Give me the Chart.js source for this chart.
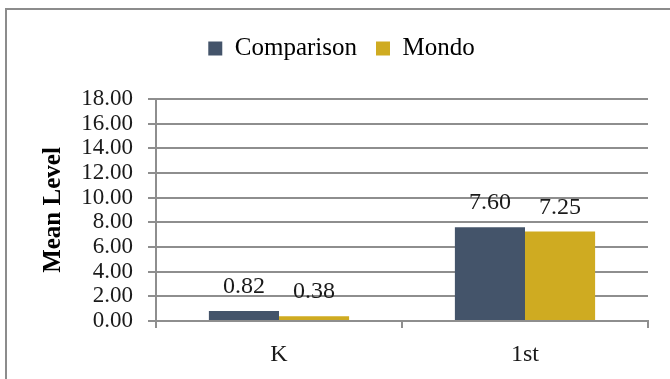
<!DOCTYPE html>
<html>
<head>
<meta charset="utf-8">
<script src="https://cdn.jsdelivr.net/npm/chart.js@4.4.1/dist/chart.umd.min.js"></script>
<style>
  html, body { margin: 0; padding: 0; background: #fff; overflow: hidden; }
  #wrap { position: relative; width: 670px; height: 379px; }
  #frame {
    position: absolute; left: 5px; top: 8px; width: 720px; height: 420px;
    border: 2px solid #8c8c8c; box-sizing: border-box; pointer-events: none;
  }
  canvas { position: absolute; left: 0; top: 0; }
</style>
</head>
<body>
<div id="wrap">
  <div id="frame"></div>
  <canvas id="meanChart" width="670" height="379"></canvas>
</div>
<script>
// grade levels and mean reading level per group
const categories = ['K', '1st'];
const comparisonValues = [0.82, 7.60];
const mondoValues = [0.38, 7.25];
const seriesNames = ['Comparison', 'Mondo'];
const yTicks = [0, 2, 4, 6, 8, 10, 12, 14, 16, 18];

const SERIF = '"Liberation Serif", "Times New Roman", serif';
const GRID_COLOR = '#8e8e8e';
const LEGEND_HEIGHT = 82;

// force legend block height so the plot starts where the reference does
const legendSpacer = {
  id: 'legendSpacer',
  beforeInit(chart) {
    const origFit = chart.legend.fit;
    chart.legend.fit = function fit() {
      origFit.bind(chart.legend)();
      this.height = LEGEND_HEIGHT;
    };
  },
};

// value labels above each bar
const barValueLabels = {
  id: 'barValueLabels',
  afterDatasetsDraw(chart) {
    const { ctx } = chart;
    ctx.save();
    ctx.font = `24px ${SERIF}`;
    ctx.fillStyle = '#1a1a1a';
    ctx.textAlign = 'center';
    ctx.textBaseline = 'alphabetic';
    chart.data.datasets.forEach((ds, i) => {
      chart.getDatasetMeta(i).data.forEach((bar, j) => {
        ctx.fillText(ds.data[j].toFixed(2), bar.x, bar.y - 18);
      });
    });
    ctx.restore();
  },
};

const ctx = document.getElementById('meanChart').getContext('2d');
new Chart(ctx, {
  type: 'bar',
  data: {
    labels: categories,
    datasets: [
      { label: seriesNames[0], data: comparisonValues, backgroundColor: '#44546A' },
      { label: seriesNames[1], data: mondoValues, backgroundColor: '#CFAB21' },
    ],
  },
  options: {
    responsive: false,
    animation: false,
    categoryPercentage: 0.57,
    barPercentage: 1.0,
    layout: { padding: { left: 35, right: 22, top: 17, bottom: 0 } },
    plugins: {
      legend: {
        position: 'top',
        labels: {
          boxWidth: 14,
          boxHeight: 14,
          padding: 19,
          color: '#000',
          font: { family: SERIF, size: 25 },
        },
      },
      tooltip: { enabled: false },
    },
    scales: {
      x: {
        afterFit(scale) { scale.height = 58; },
        grid: {
          offset: true,
          drawOnChartArea: false,
          drawTicks: true,
          tickLength: 7,
          color: GRID_COLOR,
          lineWidth: 2,
        },
        border: { display: true, color: GRID_COLOR, width: 2 },
        ticks: { color: '#1a1a1a', padding: 12, font: { family: SERIF, size: 24 } },
      },
      y: {
        min: 0,
        max: 18,
        afterFit(scale) { scale.width = 121; },
        afterBuildTicks(scale) { scale.ticks = yTicks.map(v => ({ value: v })); },
        grid: { color: GRID_COLOR, lineWidth: 2, tickLength: 8 },
        border: { display: true, color: GRID_COLOR, width: 2 },
        ticks: {
          autoSkip: false,
          padding: 15,
          color: '#1a1a1a',
          font: { family: SERIF, size: 23 },
          callback: v => Number(v).toFixed(2),
        },
        title: {
          display: true,
          text: 'Mean Level',
          color: '#000',
          font: { family: SERIF, size: 25, weight: 'bold' },
        },
      },
    },
  },
  plugins: [legendSpacer, barValueLabels],
});
</script>
</body>
</html>
